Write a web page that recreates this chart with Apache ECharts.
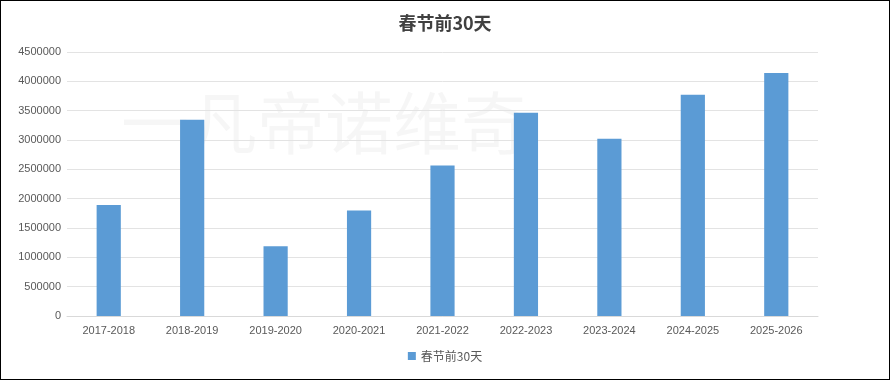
<!DOCTYPE html>
<html><head><meta charset="utf-8">
<script src="https://cdn.jsdelivr.net/npm/echarts@6/dist/echarts.min.js"></script>
<style>
html,body{margin:0;padding:0;background:#fff;}
#c{width:888px;height:378px;border:1px solid #000;}
</style></head>
<body><div id="c"></div>
<script>
var titleText = '春节前30天';
var seriesName = '春节前30天';
var categories = ['2017-2018','2018-2019','2019-2020','2020-2021','2021-2022','2022-2023','2023-2024','2024-2025','2025-2026'];
var values = [1890000, 3345000, 1190000, 1800000, 2565000, 3465000, 3020000, 3770000, 4140000];
var watermark = '一凡帝诺维奇';

var chart = echarts.init(document.getElementById('c'));
chart.setOption({
  animation: false,
  backgroundColor: '#fff',
  title: {
    text: titleText, left: 'center', top: 8,
    textStyle: { fontFamily: 'Noto Sans CJK SC', fontSize: 18, fontWeight: 'bold', color: '#404040' }
  },
  graphic: [{
    type: 'text', left: 120, top: 88, z: 0, silent: true,
    style: { text: watermark, fontFamily: 'Noto Sans CJK SC', fontSize: 68, fill: 'rgba(0,0,0,0.035)' }
  }],
  legend: {
    bottom: 12, left: 'center', itemWidth: 8, itemHeight: 8, icon: 'rect',
    textStyle: { fontFamily: 'Noto Sans CJK SC', fontSize: 12, color: '#595959' },
    data: [seriesName]
  },
  grid: { left: 66, right: 71, top: 51, bottom: 63 },
  xAxis: {
    type: 'category', data: categories,
    axisLine: { lineStyle: { color: '#d9d9d9' } },
    axisTick: { show: false },
    axisLabel: { color: '#595959', fontSize: 11, fontFamily: 'Liberation Sans', margin: 9 }
  },
  yAxis: {
    type: 'value', min: 0, max: 4500000, interval: 500000,
    axisLine: { show: false }, axisTick: { show: false },
    splitLine: { lineStyle: { color: '#e3e3e3' } },
    axisLabel: { color: '#595959', fontSize: 11, fontFamily: 'Liberation Sans', margin: 6,
      formatter: function (v) { return String(v); } }
  },
  series: [{
    name: seriesName, type: 'bar', data: values, barWidth: '29%', z: 3,
    itemStyle: { color: '#5B9BD5' }
  }]
});
</script></body></html>
